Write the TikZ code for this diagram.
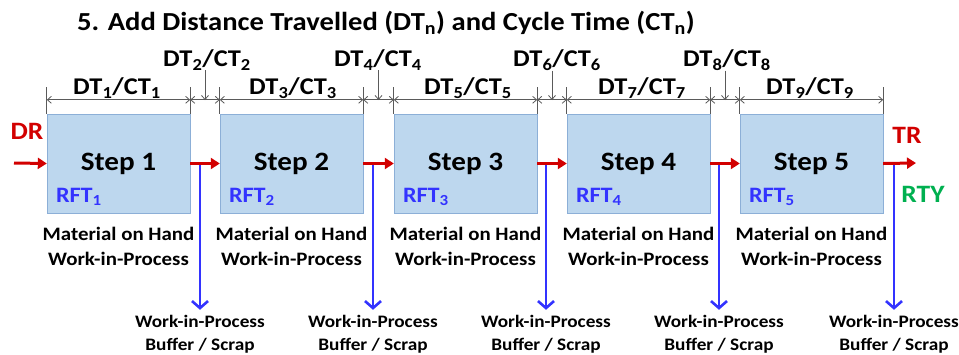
\documentclass[tikz,border=0pt]{standalone}
\usepackage{fontspec}
\setmainfont{Carlito}[FakeStretch=1.1]
\usetikzlibrary{arrows.meta,positioning}
\definecolor{boxfill}{RGB}{189,215,238}
\definecolor{boxline}{RGB}{140,175,215}
\definecolor{flowred}{RGB}{210,0,0}
\definecolor{scrapblue}{RGB}{51,51,255}
\definecolor{yieldgreen}{RGB}{0,176,80}
\definecolor{dimgray}{RGB}{90,90,90}
\tikzset{
  stepbox/.style = {rectangle, draw=boxline, fill=boxfill, minimum width=143pt,
    minimum height=99pt, inner sep=0pt, font=\fontsize{26.5}{28}\selectfont\bfseries},
  rft/.style = {anchor=west, inner sep=0pt, text=scrapblue,
    font=\fontsize{22}{24}\selectfont\bfseries},% rolled first time yield
  stock/.style = {align=center, inner sep=0pt, font=\fontsize{19}{25}\selectfont\bfseries},
  buffer/.style = {align=center, inner sep=0pt, font=\fontsize{17.5}{23}\selectfont\bfseries},
  dtlabel/.style = {inner sep=0pt, font=\fontsize{24}{26}\selectfont\bfseries},
  flowlabel/.style = {inner sep=0pt, font=\fontsize{25}{26}\selectfont\bfseries},
  flow/.style = {draw=flowred, line width=3pt, -{Triangle[length=9pt,width=11pt]}},
  scrap/.style = {draw=scrapblue, line width=2.6pt, -{Straight Barb[length=7pt,width=16pt]}},
  ext/.style = {draw=dimgray, line width=0.8pt},
  dim/.style = {ext, {Straight Barb[length=4pt,width=7pt]}-{Straight Barb[length=4pt,width=7pt]}},
  pointer/.style = {ext, -{Straight Barb[length=4pt,width=7pt]}}
}

\begin{document}
\begin{tikzpicture}[x=1pt,y=-1pt]
\useasboundingbox (0,0) rectangle (959,354);
\node[inner sep=0pt, font=\fontsize{26}{28}\selectfont\bfseries] (title) at (386,23)
  {5. Add Distance Travelled (DT\textsubscript{n}) and Cycle Time (CT\textsubscript{n})};

% process steps
\node[stepbox] (step1) at (118.5,163.5) {Step 1};
\node[stepbox] (step2) at (291.5,163.5) {Step 2};
\node[stepbox] (step3) at (465.5,163.5) {Step 3};
\node[stepbox] (step4) at (638.5,163.5) {Step 4};
\node[stepbox] (step5) at (811.5,163.5) {Step 5};
\node[rft] (rft1) at ([xshift=9pt,yshift=16pt]step1.south west) {RFT\textsubscript{1}};
\node[rft] (rft2) at ([xshift=9pt,yshift=16pt]step2.south west) {RFT\textsubscript{2}};
\node[rft] (rft3) at ([xshift=9pt,yshift=16pt]step3.south west) {RFT\textsubscript{3}};
\node[rft] (rft4) at ([xshift=9pt,yshift=16pt]step4.south west) {RFT\textsubscript{4}};
\node[rft] (rft5) at ([xshift=9pt,yshift=16pt]step5.south west) {RFT\textsubscript{5}};
\node[stock, below=14pt of step1] (stock1) {Material on Hand\\Work-in-Process};
\node[stock, below=14pt of step2] (stock2) {Material on Hand\\Work-in-Process};
\node[stock, below=14pt of step3] (stock3) {Material on Hand\\Work-in-Process};
\node[stock, below=14pt of step4] (stock4) {Material on Hand\\Work-in-Process};
\node[stock, below=14pt of step5] (stock5) {Material on Hand\\Work-in-Process};

% scrap out of each step
\coordinate (w1) at (200,163);
\coordinate (w2) at (373,163);
\coordinate (w3) at (546,163);
\coordinate (w4) at (719,163);
\coordinate (w5) at (894,163);
\node[buffer] (buf1) at (200,334) {Work-in-Process\\Buffer / Scrap};
\node[buffer] (buf2) at (373,334) {Work-in-Process\\Buffer / Scrap};
\node[buffer] (buf3) at (546,334) {Work-in-Process\\Buffer / Scrap};
\node[buffer] (buf4) at (719,334) {Work-in-Process\\Buffer / Scrap};
\node[buffer] (buf5) at (894,334) {Work-in-Process\\Buffer / Scrap};
\draw[scrap] (w1) -- ([yshift=5pt]buf1.north);
\draw[scrap] (w2) -- ([yshift=5pt]buf2.north);
\draw[scrap] (w3) -- ([yshift=5pt]buf3.north);
\draw[scrap] (w4) -- ([yshift=5pt]buf4.north);
\draw[scrap] (w5) -- ([yshift=5pt]buf5.north);

% material flow
\coordinate (dr) at (14,163);
\coordinate (tr) at (916,163);
\node[flowlabel, text=flowred] (drlabel) at (27,131) {DR};
\node[flowlabel, text=flowred] (trlabel) at (907,135) {TR};
\node[flowlabel, text=yieldgreen] (rty) at (923,194) {RTY};
\draw[flow] (dr) -- (step1.west);
\draw[flow] (step1.east) -- (step2.west);
\draw[flow] (step2.east) -- (step3.west);
\draw[flow] (step3.east) -- (step4.west);
\draw[flow] (step4.east) -- (step5.west);
\draw[flow] (step5.east) -- (tr);

% distance travelled / cycle time
\draw[ext] (step1.north west) -- ++(0,-27);
\draw[ext] (step1.north east) -- ++(0,-27);
\draw[ext] (step2.north west) -- ++(0,-27);
\draw[ext] (step2.north east) -- ++(0,-27);
\draw[ext] (step3.north west) -- ++(0,-27);
\draw[ext] (step3.north east) -- ++(0,-27);
\draw[ext] (step4.north west) -- ++(0,-27);
\draw[ext] (step4.north east) -- ++(0,-27);
\draw[ext] (step5.north west) -- ++(0,-27);
\draw[ext] (step5.north east) -- ++(0,-27);
\draw[dim] ([yshift=14pt]step1.north west) -- ([yshift=14pt]step1.north east);
\draw[dim] ([yshift=14pt]step1.north east) -- ([yshift=14pt]step2.north west);
\draw[dim] ([yshift=14pt]step2.north west) -- ([yshift=14pt]step2.north east);
\draw[dim] ([yshift=14pt]step2.north east) -- ([yshift=14pt]step3.north west);
\draw[dim] ([yshift=14pt]step3.north west) -- ([yshift=14pt]step3.north east);
\draw[dim] ([yshift=14pt]step3.north east) -- ([yshift=14pt]step4.north west);
\draw[dim] ([yshift=14pt]step4.north west) -- ([yshift=14pt]step4.north east);
\draw[dim] ([yshift=14pt]step4.north east) -- ([yshift=14pt]step5.north west);
\draw[dim] ([yshift=14pt]step5.north west) -- ([yshift=14pt]step5.north east);
\node[dtlabel] (dt1) at (117,88) {DT\textsubscript{1}/CT\textsubscript{1}};
\node[dtlabel] (dt3) at (293,88) {DT\textsubscript{3}/CT\textsubscript{3}};
\node[dtlabel] (dt5) at (468,88) {DT\textsubscript{5}/CT\textsubscript{5}};
\node[dtlabel] (dt7) at (642,88) {DT\textsubscript{7}/CT\textsubscript{7}};
\node[dtlabel] (dt9) at (810,88) {DT\textsubscript{9}/CT\textsubscript{9}};
\node[dtlabel] (dt2) at (207,60) {DT\textsubscript{2}/CT\textsubscript{2}};
\node[dtlabel] (dt4) at (378,60) {DT\textsubscript{4}/CT\textsubscript{4}};
\node[dtlabel] (dt6) at (557,60) {DT\textsubscript{6}/CT\textsubscript{6}};
\node[dtlabel] (dt8) at (727,60) {DT\textsubscript{8}/CT\textsubscript{8}};
\coordinate (g1) at (205,100);
\coordinate (g2) at (378.5,100);
\coordinate (g3) at (552,100);
\coordinate (g4) at (725,100);
\draw[pointer] (g1 |- dt2.south) -- (g1);
\draw[pointer] (g2 |- dt4.south) -- (g2);
\draw[pointer] (g3 |- dt6.south) -- (g3);
\draw[pointer] (g4 |- dt8.south) -- (g4);
\end{tikzpicture}
\end{document}
